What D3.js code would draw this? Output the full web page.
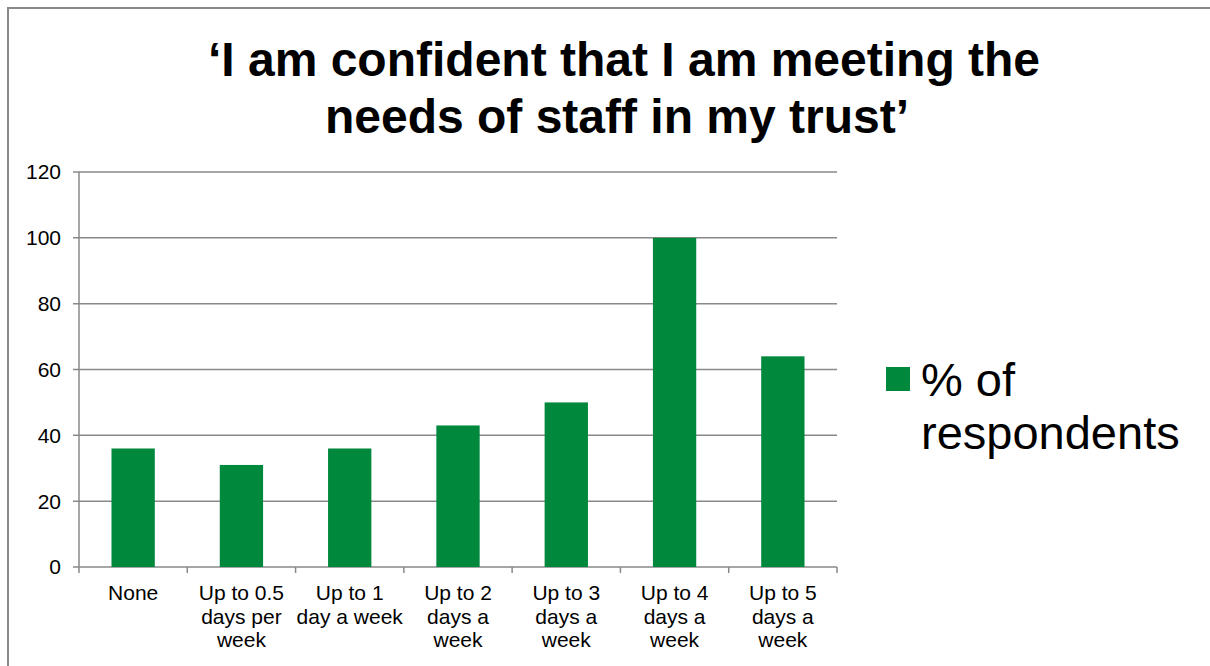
<!DOCTYPE html>
<html>
<head>
<meta charset="utf-8">
<script src="https://cdn.jsdelivr.net/npm/d3@7"></script>
<style>
  body { margin: 0; background: #fff; }
  text { font-family: "Liberation Sans", Arial, sans-serif; fill: #000; }
</style>
</head>
<body>
<div id="chart-area"></div>
<script>
// data
var categories = ["None", "Up to 0.5 days per week", "Up to 1 day a week", "Up to 2 days a week",
                  "Up to 3 days a week", "Up to 4 days a week", "Up to 5 days a week"];
var tickLabels = [["None"], ["Up to 0.5", "days per", "week"], ["Up to 1", "day a week"],
                  ["Up to 2", "days a", "week"], ["Up to 3", "days a", "week"],
                  ["Up to 4", "days a", "week"], ["Up to 5", "days a", "week"]];
var values = [36, 31, 36, 43, 50, 100, 64];
var yTicks = [0, 20, 40, 60, 80, 100, 120];
var titleLines = ["\u2018I am confident that I am meeting the", "needs of staff in my trust\u2019"];
var seriesName = ["% of", "respondents"];

var W = 1210, H = 666;
var margin = { left: 79, right: 373, top: 172, bottom: 99 };
var green = "#00883d", grey = "#898989";

var svg = d3.select("#chart-area")
    .append("svg")
    .attr("width", W)
    .attr("height", H);

// outer frame (only top and left visible)
svg.append("path")
    .attr("d", "M8,666 L8,8 L1210,8")
    .attr("fill", "none")
    .attr("stroke", grey)
    .attr("stroke-width", 2);

var x = d3.scaleBand()
    .domain(categories)
    .range([margin.left, W - margin.right])
    .paddingInner(0.6)
    .paddingOuter(0.3);

var y = d3.scaleLinear()
    .domain([0, 120])
    .range([H - margin.bottom, margin.top]);

// gridlines + y ticks
svg.selectAll(".grid")
    .data(yTicks)
    .enter()
    .append("line")
        .attr("x1", margin.left - 6)
        .attr("x2", W - margin.right)
        .attr("y1", d => y(d))
        .attr("y2", d => y(d))
        .attr("stroke", grey)
        .attr("stroke-width", 1.5);

svg.selectAll(".ylab")
    .data(yTicks)
    .enter()
    .append("text")
        .attr("x", margin.left - 18)
        .attr("y", d => y(d))
        .attr("dy", "0.35em")
        .attr("text-anchor", "end")
        .style("font-size", "21px")
        .text(d => d);

// y axis line
svg.append("line")
    .attr("x1", margin.left).attr("x2", margin.left)
    .attr("y1", y(120)).attr("y2", y(0))
    .attr("stroke", grey).attr("stroke-width", 1.5);

// bars
svg.selectAll(".bar")
    .data(values)
    .enter()
    .append("rect")
        .attr("x", (d, i) => x(categories[i]))
        .attr("width", x.bandwidth())
        .attr("y", d => y(d))
        .attr("height", d => y(0) - y(d))
        .attr("fill", green);

// x axis ticks at category boundaries
var step = x.step();
var bounds = d3.range(categories.length + 1).map(i => x(categories[0]) - step * 0.3 + i * step);
svg.selectAll(".xtick")
    .data(bounds)
    .enter()
    .append("line")
        .attr("x1", d => d).attr("x2", d => d)
        .attr("y1", y(0)).attr("y2", y(0) + 6)
        .attr("stroke", grey).attr("stroke-width", 1.5);

// x labels
var xl = svg.selectAll(".xlab")
    .data(tickLabels)
    .enter()
    .append("text")
        .attr("text-anchor", "middle")
        .style("font-size", "21px")
        .attr("transform", (d, i) => "translate(" + (x(categories[i]) + x.bandwidth() / 2) + "," + (y(0) + 33) + ")");
xl.selectAll("tspan")
    .data(d => d)
    .enter()
    .append("tspan")
        .attr("x", 0)
        .attr("y", (d, i) => i * 23.5)
        .text(d => d);

// title
svg.append("text")
    .attr("text-anchor", "middle")
    .style("font-size", "48px")
    .style("font-weight", "bold")
    .selectAll("tspan")
    .data(titleLines)
    .enter()
    .append("tspan")
        .attr("x", (d, i) => i === 0 ? 624 : 617)
        .attr("y", (d, i) => 76 + i * 57)
        .text(d => d);

// legend
svg.append("rect")
    .attr("x", 886).attr("y", 367)
    .attr("width", 24).attr("height", 24)
    .attr("fill", green);
svg.append("text")
    .style("font-size", "47px")
    .selectAll("tspan")
    .data(seriesName)
    .enter()
    .append("tspan")
        .attr("x", 921)
        .attr("y", (d, i) => 396 + i * 53)
        .text(d => d);
</script>
</body>
</html>
